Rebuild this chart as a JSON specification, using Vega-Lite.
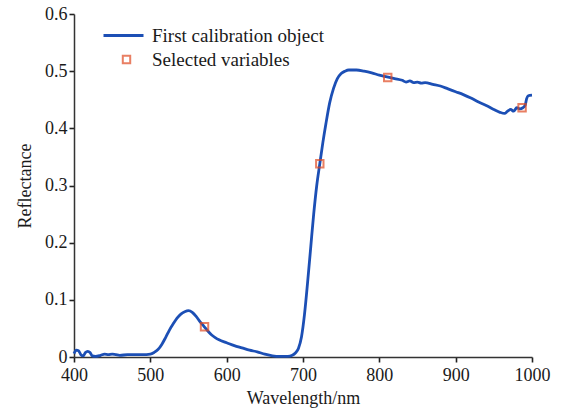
{
  "$schema": "https://vega.github.io/schema/vega-lite/v6.json",
  "width": 458,
  "height": 343,
  "autosize": "none",
  "padding": {"left": 74, "top": 14, "right": 36, "bottom": 60},
  "background": "white",
  "config": {
    "view": {"stroke": null},
    "font": "Liberation Serif",
    "axis": {"grid": false, "domainColor": "#333", "domainWidth": 1.5, "ticks": true, "tickColor": "#222", "tickWidth": 1.6, "labelFont": "Liberation Serif", "labelFontSize": 18, "labelColor": "#1a1a1a", "labelFlush": false, "titleFont": "Liberation Serif", "titleFontSize": 18, "titleFontWeight": "normal", "titleColor": "#1a1a1a"}
  },
  "datasets": {
    "spectrum": [
      {"wl": 400, "r": 0.006}, {"wl": 403, "r": 0.012}, {"wl": 406, "r": 0.011}, {"wl": 409, "r": 0.004}, {"wl": 412, "r": 0.002}, {"wl": 415, "r": 0.008}, {"wl": 418, "r": 0.010}, {"wl": 421, "r": 0.008}, {"wl": 424, "r": 0.002}, {"wl": 428, "r": 0.001}, {"wl": 435, "r": 0.003}, {"wl": 440, "r": 0.005}, {"wl": 445, "r": 0.004}, {"wl": 450, "r": 0.005}, {"wl": 455, "r": 0.004}, {"wl": 460, "r": 0.003}, {"wl": 470, "r": 0.004}, {"wl": 480, "r": 0.004}, {"wl": 490, "r": 0.004}, {"wl": 500, "r": 0.005}, {"wl": 505, "r": 0.008}, {"wl": 510, "r": 0.013}, {"wl": 515, "r": 0.022}, {"wl": 520, "r": 0.034}, {"wl": 525, "r": 0.047}, {"wl": 530, "r": 0.058}, {"wl": 535, "r": 0.068}, {"wl": 540, "r": 0.075}, {"wl": 545, "r": 0.079}, {"wl": 550, "r": 0.081}, {"wl": 555, "r": 0.078}, {"wl": 560, "r": 0.071}, {"wl": 565, "r": 0.062}, {"wl": 570, "r": 0.054}, {"wl": 575, "r": 0.046}, {"wl": 580, "r": 0.039}, {"wl": 585, "r": 0.034}, {"wl": 590, "r": 0.030}, {"wl": 600, "r": 0.025}, {"wl": 610, "r": 0.020}, {"wl": 620, "r": 0.016}, {"wl": 630, "r": 0.012}, {"wl": 640, "r": 0.009}, {"wl": 650, "r": 0.005}, {"wl": 660, "r": 0.002}, {"wl": 670, "r": 0.001}, {"wl": 680, "r": 0.001}, {"wl": 686, "r": 0.003}, {"wl": 690, "r": 0.007}, {"wl": 694, "r": 0.015}, {"wl": 698, "r": 0.035}, {"wl": 702, "r": 0.075}, {"wl": 706, "r": 0.130}, {"wl": 710, "r": 0.190}, {"wl": 714, "r": 0.250}, {"wl": 718, "r": 0.300}, {"wl": 722, "r": 0.338}, {"wl": 726, "r": 0.375}, {"wl": 730, "r": 0.408}, {"wl": 735, "r": 0.445}, {"wl": 740, "r": 0.470}, {"wl": 745, "r": 0.487}, {"wl": 750, "r": 0.496}, {"wl": 755, "r": 0.500}, {"wl": 760, "r": 0.502}, {"wl": 770, "r": 0.502}, {"wl": 780, "r": 0.500}, {"wl": 790, "r": 0.497}, {"wl": 800, "r": 0.493}, {"wl": 810, "r": 0.490}, {"wl": 820, "r": 0.487}, {"wl": 830, "r": 0.484}, {"wl": 835, "r": 0.481}, {"wl": 840, "r": 0.483}, {"wl": 845, "r": 0.480}, {"wl": 850, "r": 0.481}, {"wl": 855, "r": 0.479}, {"wl": 860, "r": 0.480}, {"wl": 870, "r": 0.477}, {"wl": 880, "r": 0.474}, {"wl": 890, "r": 0.469}, {"wl": 900, "r": 0.464}, {"wl": 910, "r": 0.459}, {"wl": 920, "r": 0.453}, {"wl": 930, "r": 0.446}, {"wl": 940, "r": 0.440}, {"wl": 950, "r": 0.433}, {"wl": 958, "r": 0.428}, {"wl": 964, "r": 0.426}, {"wl": 968, "r": 0.430}, {"wl": 972, "r": 0.433}, {"wl": 976, "r": 0.430}, {"wl": 980, "r": 0.436}, {"wl": 984, "r": 0.434}, {"wl": 988, "r": 0.436}, {"wl": 991, "r": 0.440}, {"wl": 993, "r": 0.452}, {"wl": 995, "r": 0.457}, {"wl": 1000, "r": 0.458}
    ],
    "selected": [
      {"wl": 571, "r": 0.053}, {"wl": 722, "r": 0.338}, {"wl": 811, "r": 0.489}, {"wl": 987, "r": 0.436}
    ]
  },
  "layer": [
    {
      "data": {"name": "spectrum"},
      "transform": [{"calculate": "'First calibration object'", "as": "series"}],
      "mark": {"type": "line", "strokeWidth": 2.8, "interpolate": "monotone"},
      "encoding": {
        "x": {"field": "wl", "type": "quantitative", "scale": {"domain": [400, 1000], "nice": false}, "axis": {"orient": "bottom", "title": "Wavelength/nm", "values": [400, 500, 600, 700, 800, 900, 1000], "format": "d", "ticks": true, "tickSize": 5, "labelPadding": 4, "titlePadding": 5}},
        "y": {"field": "r", "type": "quantitative", "scale": {"domain": [0, 0.6], "nice": false}, "axis": {"orient": "left", "title": "Reflectance", "values": [0, 0.1, 0.2, 0.3, 0.4, 0.5, 0.6], "labelExpr": "datum.value == 0 ? '0' : format(datum.value, '.1f')", "ticks": true, "tickSize": 5, "labelPadding": 2, "titlePadding": 10}},
        "stroke": {"field": "series", "type": "nominal", "scale": {"range": ["#1c4fb5"]}, "legend": {"title": null, "orient": "none", "legendX": 28, "legendY": 0, "symbolType": "stroke", "symbolSize": 1600, "symbolStrokeWidth": 3, "labelFont": "Liberation Serif", "labelFontSize": 19, "labelColor": "#1a1a1a", "labelOffset": 7, "labelLimit": 400, "padding": 0}}
      }
    },
    {
      "data": {"name": "selected"},
      "transform": [{"calculate": "'Selected variables'", "as": "series"}],
      "mark": {"type": "point", "shape": "square", "filled": false, "size": 55, "strokeWidth": 2},
      "encoding": {
        "x": {"field": "wl", "type": "quantitative"},
        "y": {"field": "r", "type": "quantitative"},
        "color": {"field": "series", "type": "nominal", "scale": {"range": ["#e04a22"]}, "legend": {"title": null, "orient": "none", "legendX": 43, "legendY": 36, "symbolType": "square", "symbolSize": 55, "symbolStrokeWidth": 2, "symbolFillColor": "transparent", "labelFont": "Liberation Serif", "labelFontSize": 19, "labelColor": "#1a1a1a", "labelOffset": 16, "labelLimit": 400, "padding": 0}}
      }
    }
  ]
}
